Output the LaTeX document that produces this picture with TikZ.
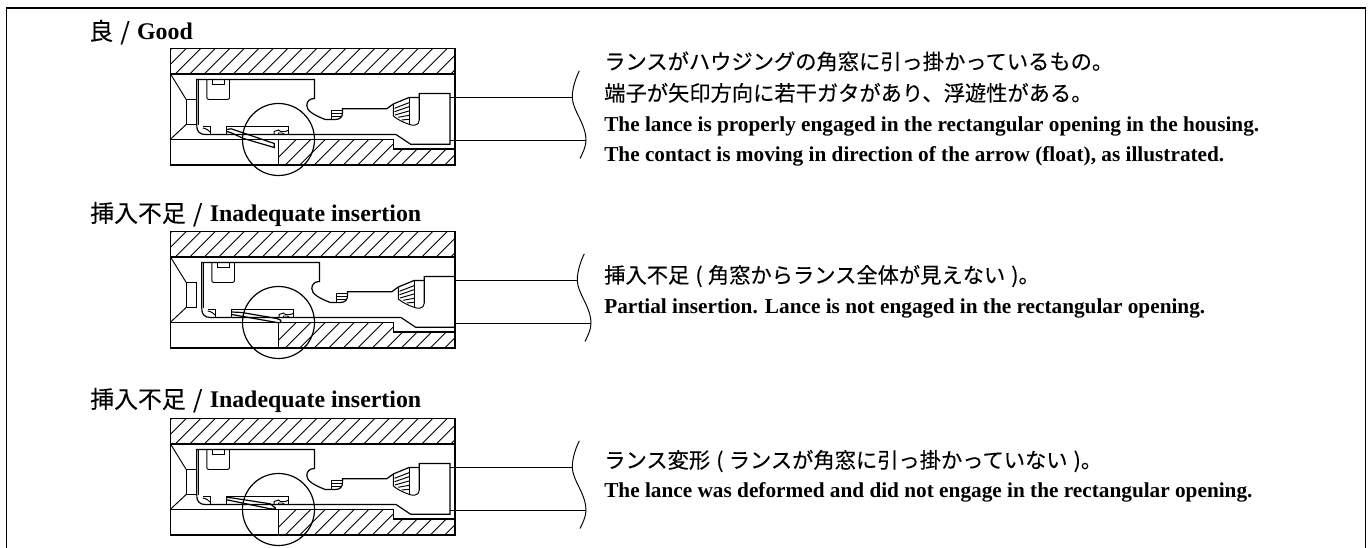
\documentclass[tikz,border=0pt]{standalone}
\usepackage{fontspec}
\setmainfont{Liberation Serif}
\newfontfamily\jpf[FakeBold=0.2]{Noto Sans CJK JP}
\newcommand{\bodyfs}{\fontsize{15.95pt}{18pt}\selectfont}
\newcommand{\enfs}{\fontsize{15.95pt}{18pt}\selectfont}
\newcommand{\headfs}{\fontsize{17.9pt}{20pt}\selectfont}
\newcommand{\jph}[1]{{\mdseries\jpf #1}}
\newcommand{\hdslash}{\hspace{5.5pt}\jph{/}\hspace{5.5pt}}
\newcommand{\jlp}{\hspace{1pt}(\hspace{4pt}}
\newcommand{\jrp}{\hspace{1pt})}
\tikzset{
  line/.style={draw=black,line width=0.9pt,line join=miter},
  thin line/.style={draw=black,line width=0.72pt},
  hatchline/.style={draw=black,line width=0.7pt},
  headtext/.style={anchor=base west,inner sep=0pt,font=\headfs\bfseries},
  jptext/.style={anchor=base west,inner sep=0pt,font=\bodyfs\jpf},
  entext/.style={anchor=base west,inner sep=0pt,font=\enfs\bfseries},
}
% #1 top y, #2 contact shift, #3 lance path
\newcommand{\housingpanel}[3]{%
\begin{scope}[shift={(170.5,#1)}]
  % hatching
  \begin{scope}
    \clip (0,0) rectangle (284.5,25.5);
    \foreach \k in {0,...,22} {\draw[hatchline] ({30.3+14.5*(\k-3)},0) -- ({30.3+14.5*(\k-3)-25.5},25.5);}
  \end{scope}
  \begin{scope}
    \clip (108,90.7) -- (222.8,90.7) -- (222.8,100.5) -- (284.5,100.5) -- (284.5,116.5) -- (108,116.5) -- cycle;
    \foreach \k in {0,...,16} {\draw[hatchline] ({126+14.5*\k},90.7) -- ({126+14.5*\k-25.8},116.5);}
  \end{scope}
  % housing
  \draw[line] (0,0) rectangle (284.5,116.5);
  \draw[line] (0,25.5) -- (284.5,25.5);
  \draw[line] (0,90.7) -- (222.8,90.7) -- (222.8,100.5) -- (284.5,100.5);
  \draw[line] (108,90.7) -- (108,116.5);
  \draw[thin line] (0,25.5) -- (15.7,51) (0,90.7) -- (15.7,76);
  \draw[thin line] (15.7,51) rectangle (26,76);
  % contact
  \begin{scope}[shift={(#2,0)}]
    \draw[line] (26.3,78) -- (26.3,31) -- (144,31) -- (144,50)
      .. controls (139,50) and (136.3,53) .. (136.3,57)
      .. controls (136.3,62) and (142,66) .. (154.7,71) -- (165,71)
      .. controls (170,71) and (172,68) .. (172,64) -- (172,60.3)
      -- (216.2,60.3) -- (222.8,55.5) -- (238.5,49) -- (248.8,49);
    \draw[line] (248.8,71.5) -- (248.8,45) -- (279.5,45) -- (279.5,95.8)
      -- (240.2,95.8) -- (225.5,86) -- (34.7,86)
      .. controls (29.5,86) and (26.3,83) .. (26.3,78);
    \draw[thin line] (27.8,31) -- (27.8,77);
    \draw[thin line] (222.8,55.5) -- (222.8,67.5)
      .. controls (227,71) and (233,74) .. (238.5,75.8)
      .. controls (241,77) and (248.8,78) .. (248.8,71.5);
    \draw[thin line] (238.5,49) -- (238.5,75.8);
    \draw[thin line] (224,59.8) -- (238.5,54.2) (224,63.2) -- (238.5,58.2)
      (224.5,66.5) -- (238.5,62.5) (227.8,68.8) -- (238.5,66.8) (231.2,71.5) -- (238.5,70.8);
    \draw[thin line] (161.3,71) -- (161.3,61.7) -- (172,61.7)
      (161.3,65) -- (172,65) (161.3,68) -- (171,68);
    \draw[thin line,rounded corners=1.5pt] (36.3,31) -- (36.3,51) -- (59,51) -- (59,31);
    \draw[thin line] (41.7,31) -- (41.7,35.7) -- (53.7,35.7) -- (53.7,31);
    \draw[thin line] (32.3,78) -- (40.3,78) -- (40.3,86);
    \draw[thin line] (32.3,79.5) .. controls (36,80) and (38,82) .. (40.3,84);
    \draw[line] (56.3,86) -- (56.3,78) -- (118.3,78) -- (118.3,86);
    \draw[thin line] (103.7,86) -- (103.7,83) -- (108,81.5) -- (110,83) -- (115,83) -- (118.3,81.5)
      (108,86) -- (108,84.5) -- (112,84.5) -- (114,86);
    \draw[line] #3;
    % wire
    \draw[line] (279.5,49) -- (401.8,49) (279.5,92) -- (415.5,92);
    \draw[thin line] (408.8,22.3) .. controls (405,30) and (401.8,40) .. (401.8,48.5)
      .. controls (401.8,62) and (415.5,75) .. (415.5,92)
      .. controls (415.5,98) and (412,105) .. (409.5,110);
  \end{scope}
  \draw[line] (108,91) circle (36);
\end{scope}}
\begin{document}
\begin{tikzpicture}[x=0.75pt,y=-0.75pt]
\useasboundingbox (0,0) rectangle (1372,548);
\draw[line,line width=1pt] (6.5,548) -- (6.5,8) -- (1365.7,8) -- (1365.7,548);
\housingpanel{48.5}{0}{(56.3,81) -- (60.7,80.3) -- (103.7,95) -- (103.7,99) -- (73,90) -- (60.7,84.3) -- (56.3,83)}
\housingpanel{231.5}{5}{(56.3,80.5) -- (66.3,81) -- (101.3,87) -- (105.3,88.7) -- (105.3,91) -- (101.3,91) -- (56.3,83)}
\housingpanel{418.5}{0}{(56.3,79) -- (60.7,79.3) -- (99.7,85.3) -- (104.7,89.3) -- (104.7,90.5) -- (99.7,90.3) -- (56.3,81.3)}
\node[headtext] (h1) at (89,40) {\jph{良}\hdslash Good};
\node[headtext] (h2) at (90,222) {\jph{挿入不足}\hdslash Inadequate insertion};
\node[headtext] (h3) at (90,408) {\jph{挿入不足}\hdslash Inadequate insertion};
\node[jptext] (a1) at (604,69.5) {ランスがハウジングの角窓に引っ掛かっているもの。};
\node[jptext] (a2) at (604,101) {端子が矢印方向に若干ガタがあり、浮遊性がある。};
\node[entext] (a3) at (604,131.7) {The lance is properly engaged in the rectangular opening in the housing.};
\node[entext] (a4) at (604,161.7) {The contact is moving in direction of the arrow (float), as illustrated.};
\node[jptext] (b1) at (604,283) {挿入不足 \jlp 角窓からランス全体が見えない \jrp 。};
\node[entext] (b2) at (604,314) {Partial insertion. Lance is not engaged in the rectangular opening.};
\node[jptext] (c1) at (604,468) {ランス変形 \jlp ランスが角窓に引っ掛かっていない \jrp 。};
\node[entext] (c2) at (604,498) {The lance was deformed and did not engage in the rectangular opening.};
\end{tikzpicture}
\end{document}
